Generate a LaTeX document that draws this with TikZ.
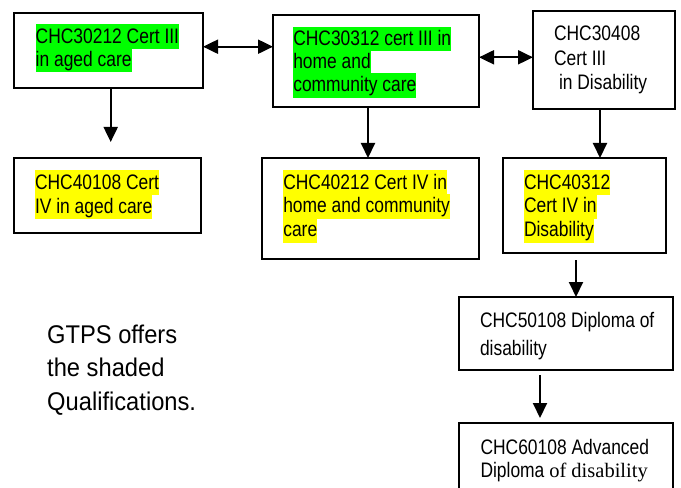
\documentclass[tikz,border=0pt]{standalone}
\usepackage{fontspec}
\setmainfont{Liberation Sans}
\newfontfamily\bxfont{Liberation Sans}[FakeStretch=0.83]
\newfontfamily\bxserif{Liberation Serif}
\newfontfamily\gtfont{Liberation Sans}[FakeStretch=0.926]
\usetikzlibrary{arrows.meta}
\definecolor{hlgreen}{RGB}{0,255,0}
\definecolor{hlyellow}{RGB}{255,255,0}
\tikzset{
  box/.style={draw=black, line width=1.8bp, inner sep=0pt, outer sep=0pt, anchor=north west},
  arr/.style={line width=2bp, -{Triangle[length=15bp,width=14bp]}},
  darr/.style={line width=2bp, {Triangle[length=15bp,width=14bp]}-{Triangle[length=15bp,width=14bp]}},
  tl/.style={anchor=base west, inner sep=0pt, outer sep=0pt, font=\bxfont\fontsize{21bp}{24bp}\selectfont},
  hg/.style={tl, fill=hlgreen, text height=18.8bp, text depth=5.6bp},
  hy/.style={tl, fill=hlyellow, text height=18.8bp, text depth=5.6bp},
  gt/.style={anchor=base west, inner sep=0pt, font=\gtfont\fontsize{25.6bp}{33bp}\selectfont}
}
\begin{document}
\begin{tikzpicture}[x=1bp, y=-1bp]
\fill[white] (0,0) rectangle (681,488);
\useasboundingbox (0,0) rectangle (681,488);

% boxes
\node[box, minimum width=189bp, minimum height=75bp] (A) at (14,13) {};
\node[box, minimum width=206bp, minimum height=92bp] (B) at (273,15) {};
\node[box, minimum width=142bp, minimum height=98bp] (C) at (533,11) {};
\node[box, minimum width=187bp, minimum height=75bp] (D) at (14,158) {};
\node[box, minimum width=217bp, minimum height=101bp] (E) at (262,158) {};
\node[box, minimum width=163bp, minimum height=95bp] (F) at (503,158) {};
\node[box, minimum width=214bp, minimum height=73bp] (G) at (459,297) {};
\node[box, minimum width=214bp, minimum height=80bp] (H) at (459,423) {};

% texts
\node[hg] (a1) at (35.7,43.3) {CHC30212 Cert III};
\node[hg] (a2) at (35.7,66.5) {in aged care};

\node[hg] (b1) at (293.3,45.7) {CHC30312 cert III in};
\node[hg] (b2) at (293.3,69) {home and};
\node[hg] (b3) at (293.3,92) {community care};

\node[tl] (c1) at (554,40.7) {CHC30408};
\node[tl] (c2) at (554,65.5) {Cert III};
\node[tl] (c3) at (559,90) {in Disability};

\node[hy] (d1) at (35,189.3) {CHC40108 Cert};
\node[hy] (d2) at (35,213.3) {IV in aged care};

\node[hy] (e1) at (283.3,189.3) {CHC40212 Cert IV in};
\node[hy] (e2) at (283.3,213) {home and community};
\node[hy] (e3) at (283.3,237) {care};

\node[hy] (f1) at (524,189.3) {CHC40312};
\node[hy] (f2) at (524,213) {Cert IV in};
\node[hy] (f3) at (524,237) {Disability};

\node[tl] (g1) at (480,327) {CHC50108 Diploma of};
\node[tl] (g2) at (480,355) {disability};

\node[tl] (h1) at (480.5,454.5) {CHC60108 Advanced};
\node[tl] (h2) at (480.5,477.5) {Diploma {\bxserif\fontsize{20.5bp}{24bp}\selectfont of disability}};

\node[gt] (t1) at (47,343) {GTPS offers};
\node[gt] (t2) at (47,376.7) {the shaded};
\node[gt] (t3) at (47,410) {Qualifications.};

% connector end points
\coordinate (adx) at (110.7,142);
\coordinate (aby) at (0,46.7);
\coordinate (bcy) at (0,57.3);
\coordinate (bex) at (368,0);
\coordinate (cfx) at (600,0);
\coordinate (fgs) at (576,260);
\coordinate (ghs) at (540,375);
\coordinate (ghe) at (540,418);

% connectors
\draw[arr] (A.south -| adx) -- (adx);
\draw[darr] (A.east |- aby) -- (B.west |- aby);
\draw[darr] (B.east |- bcy) -- (C.west |- bcy);
\draw[arr] (B.south -| bex) -- (E.north -| bex);
\draw[arr] (C.south -| cfx) -- (F.north -| cfx);
\draw[arr] (fgs) -- (G.north -| fgs);
\draw[arr] (ghs) -- (ghe);
\end{tikzpicture}
\end{document}
